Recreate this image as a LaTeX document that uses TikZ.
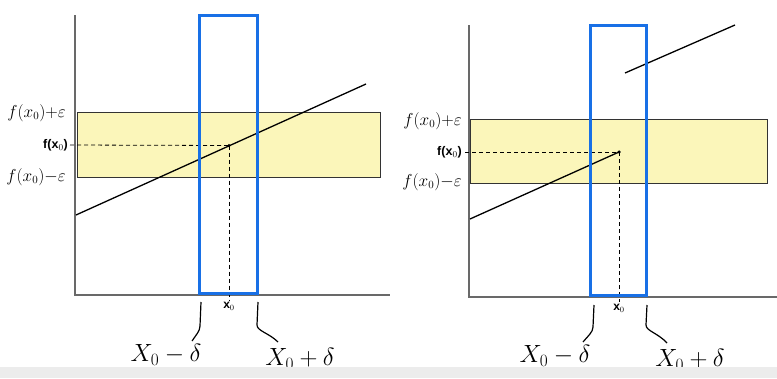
\documentclass[tikz,border=0pt]{standalone}
\usepackage{fontspec}
\newfontfamily\labfont{Liberation Sans}
\definecolor{bandyellow}{RGB}{251,246,186}
\definecolor{winblue}{RGB}{24,112,230}
\definecolor{axisgray}{RGB}{105,105,105}
\definecolor{stripgray}{RGB}{236,236,236}
\begin{document}
\begin{tikzpicture}[x=1pt,y=-1pt,
  axis/.style={draw=axisgray, line width=1.3pt},
  band/.style={draw=black!80, line width=0.9pt, fill=bandyellow},
  win/.style={draw=winblue, line width=3pt},
  graph/.style={draw=black, line width=1.3pt},
  guide/.style={draw=black, line width=0.8pt, dash pattern=on 4pt off 3pt},
  epsl/.style={font=\fontsize{16}{16}\selectfont, anchor=east, inner sep=0pt},
  fxl/.style={font=\labfont\bfseries\fontsize{12.5}{12.5}\selectfont, anchor=east, inner sep=0pt},
  xl/.style={font=\labfont\bfseries\fontsize{12}{12}\selectfont, anchor=north, inner sep=0pt},
  deltal/.style={font=\fontsize{25}{25}\selectfont, inner sep=0pt},
  brace/.style={draw=black, line width=1.2pt},
  dot/.style={circle, fill=black, inner sep=0pt, minimum size=3.5pt}
]
\useasboundingbox (0,0) rectangle (777,378);
\fill[white] (0,0) rectangle (777,378);

% ---------------- left panel ----------------
\coordinate (LyT) at (75,15);
\coordinate (LO) at (75,295);
\coordinate (LxR) at (390,295);
\coordinate (LbA) at (77,112);
\coordinate (LbB) at (380,177);
\coordinate (LfA) at (76,215);
\coordinate (LfB) at (366,84);
\coordinate (LwA) at (199,15);
\coordinate (LwB) at (257,293);
\coordinate (LhS) at (70,145);
\coordinate (LvE) at (229,300);

\draw[band] (LbA) rectangle (LbB);
\draw[axis] (LyT) -- (LO) -- (LxR);
\draw[graph] (LfA) -- (LfB);
\node[dot] (Lp) at (229,145.5) {};
\draw[guide] (LhS) -- (Lp.center);
\draw[guide] (Lp.center) -- (LvE);
\draw[win] (LwA) rectangle (LwB);

\node[epsl] (LepsP) at (66,113) {$f(x_0){+}\varepsilon$};
\node[fxl] (Lfx) at (68,145) {f(x$_0$)};
\node[epsl] (LepsM) at (66,177) {$f(x_0){-}\varepsilon$};
\node[xl] (Lx0) at (229,302) {x$_0$};

\coordinate (LbrA1) at (201,302);
\coordinate (LbrA2) at (200,326);
\coordinate (LbrA3) at (192,341);
\draw[brace] (LbrA1) -- (LbrA2) .. controls (200,331) and (196,335) .. (LbrA3);
\coordinate (LbrB1) at (258,302);
\coordinate (LbrB2) at (257,325);
\coordinate (LbrB3) at (278,342);
\draw[brace] (LbrB1) -- (LbrB2) .. controls (257,331) and (269,333) .. (LbrB3);

\node[deltal] (LdM) at (166,355) {$X_0-\delta$};
\node[deltal] (LdP) at (300,359) {$X_0+\delta$};

% ---------------- right panel ----------------
\coordinate (RyT) at (469,25);
\coordinate (RO) at (469,297);
\coordinate (RxR) at (777,297);
\coordinate (RbA) at (470,119);
\coordinate (RbB) at (767,183);
\coordinate (RfA) at (470,219);
\coordinate (RgA) at (625,73);
\coordinate (RgB) at (735,25);
\coordinate (RwA) at (590,25);
\coordinate (RwB) at (646,295);
\coordinate (RhS) at (465,152);
\coordinate (RvE) at (619,302);

\draw[band] (RbA) rectangle (RbB);
\draw[axis] (RyT) -- (RO) -- (RxR);
\node[dot] (Rp) at (619,152) {};
\draw[graph] (RfA) -- (Rp.center);
\draw[graph] (RgA) -- (RgB);
\draw[guide] (RhS) -- (Rp.center);
\draw[guide] (Rp.center) -- (RvE);
\draw[win] (RwA) rectangle (RwB);

\node[epsl] (RepsP) at (462,121) {$f(x_0){+}\varepsilon$};
\node[fxl] (Rfx) at (462,152) {f(x$_0$)};
\node[epsl] (RepsM) at (462,182) {$f(x_0){-}\varepsilon$};
\node[xl] (Rx0) at (619,304) {x$_0$};

\coordinate (RbrA1) at (594,305);
\coordinate (RbrA2) at (593,327);
\coordinate (RbrA3) at (583,342);
\draw[brace] (RbrA1) -- (RbrA2) .. controls (593,332) and (588,336) .. (RbrA3);
\coordinate (RbrB1) at (647,305);
\coordinate (RbrB2) at (646,325);
\coordinate (RbrB3) at (667,343);
\draw[brace] (RbrB1) -- (RbrB2) .. controls (646,331) and (658,333) .. (RbrB3);

\node[deltal] (RdM) at (555,356) {$X_0-\delta$};
\node[deltal] (RdP) at (690,360) {$X_0+\delta$};

% bottom strip
\fill[stripgray] (0,367) rectangle (777,378);
\end{tikzpicture}
\end{document}
